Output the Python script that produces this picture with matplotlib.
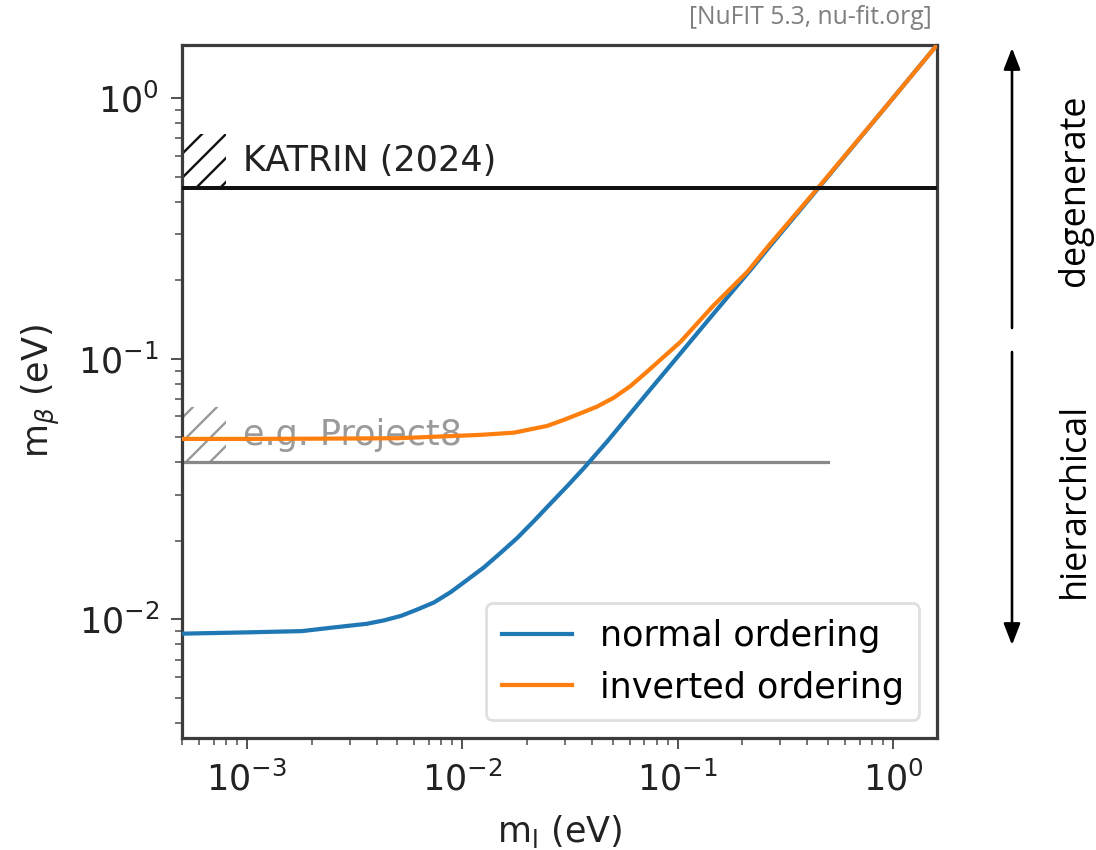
import matplotlib
matplotlib.use("Agg")
import matplotlib.pyplot as plt
import matplotlib.transforms as mtransforms
from matplotlib.patches import Rectangle
from matplotlib.ticker import LogLocator, NullFormatter

# Effective electron-neutrino mass vs. lightest neutrino mass (eV)
m_lightest_no = [5.0e-4, 1.0e-3, 1.8e-3, 2.54e-3, 3.6e-3, 4.34e-3, 5.2e-3, 6.19e-3,
                 7.4e-3, 8.83e-3, 1.06e-2, 1.26e-2, 1.51e-2, 1.80e-2, 2.15e-2,
                 2.57e-2, 3.07e-2, 3.67e-2, 4.71e-2, 7.21e-2, 0.103,
                 0.147, 0.22, 0.269, 0.45, 1.0, 1.6]
m_beta_no = [0.0088, 0.0089, 0.0090, 0.0093, 0.0096, 0.0099, 0.0103, 0.0109,
             0.0116, 0.0127, 0.0142, 0.0158, 0.0180, 0.0205, 0.0238,
             0.0278, 0.0324, 0.0380, 0.0481, 0.0736, 0.1047,
             0.149, 0.221, 0.271, 0.451, 1.0, 1.6]

m_lightest_io = [5.0e-4, 1.0e-3, 2.0e-3, 5.0e-3, 1.22e-2, 1.74e-2, 2.48e-2,
                 2.96e-2, 3.54e-2, 4.23e-2, 5.05e-2, 6.04e-2, 7.21e-2, 0.103,
                 0.123, 0.147, 0.21, 0.269, 0.45, 1.0, 1.6]
m_beta_io = [0.0492, 0.0492, 0.0493, 0.0495, 0.0510, 0.0520, 0.0552,
             0.0582, 0.0617, 0.0655, 0.0708, 0.0785, 0.0891, 0.1159,
             0.1363, 0.1602, 0.2148, 0.2758, 0.454, 1.0, 1.6]

series_labels = ["normal ordering", "inverted ordering"]

# Experimental limits / sensitivities on m_beta (eV)
katrin_limit = 0.45
project8_sens = 0.04
project8_xmax = 0.5

x_limits = (5.0e-4, 1.6)
y_limits = (3.5e-3, 1.6)

DPI = 144
plt.rcParams["hatch.linewidth"] = 1.2
plt.rcParams["font.family"] = "DejaVu Sans"

fig = plt.figure(figsize=(1096 / DPI, 850 / DPI), dpi=DPI)
ax = fig.add_axes([0.1661, 0.1318, 0.6888, 0.8153])

FS = 17.5
blue = "#1f77b4"
orange = "#ff7f0e"

ax.plot(m_lightest_no, m_beta_no, color=blue, lw=2.1, label=series_labels[0], zorder=3)
ax.plot(m_lightest_io, m_beta_io, color=orange, lw=2.1, label=series_labels[1], zorder=3)

ax.set_xscale("log")
ax.set_yscale("log")
ax.set_xlim(*x_limits)
ax.set_ylim(*y_limits)

# KATRIN upper limit with hatched excluded side
ax.axhline(katrin_limit, color="#111111", lw=2.0, zorder=4)
trans = mtransforms.blended_transform_factory(ax.transAxes, ax.transData)
ax.add_patch(Rectangle((0, katrin_limit), 0.058, katrin_limit * 0.62,
                       transform=trans, fill=False, hatch="//", edgecolor="#111111",
                       lw=0, zorder=2))
ax.text(0.081, katrin_limit * 1.27, "KATRIN (2024)", transform=trans,
        fontsize=FS, color="#222222", va="center", ha="left", zorder=2)

# Project8 sensitivity
ax.plot([x_limits[0], project8_xmax], [project8_sens, project8_sens],
        color="#888888", lw=1.6, zorder=2)
ax.add_patch(Rectangle((0, project8_sens), 0.058, project8_sens * 0.63,
                       transform=trans, fill=False, hatch="//", edgecolor="#999999",
                       lw=0, zorder=1.5))
ax.text(0.081, project8_sens * 1.27, "e.g. Project8", transform=trans,
        fontsize=FS, color="#9a9a9a", va="center", ha="left", zorder=1.5)

# Axes styling
for sp in ax.spines.values():
    sp.set_color("#3c3c3c")
    sp.set_linewidth(1.6)

ax.xaxis.set_major_locator(LogLocator(base=10, numticks=10))
ax.yaxis.set_major_locator(LogLocator(base=10, numticks=10))
ax.xaxis.set_minor_locator(LogLocator(base=10, subs=range(2, 10), numticks=20))
ax.yaxis.set_minor_locator(LogLocator(base=10, subs=range(2, 10), numticks=20))
ax.xaxis.set_minor_formatter(NullFormatter())
ax.yaxis.set_minor_formatter(NullFormatter())
ax.tick_params(which="major", length=5.5, width=1.0, color="#555555",
               labelsize=FS, pad=6, labelcolor="#222222")
ax.tick_params(which="minor", length=3.5, width=0.9, color="#666666")

ax.set_xlabel(r"m$_\mathrm{l}$ (eV)", fontsize=FS, color="#222222", labelpad=8)
ax.set_ylabel(r"m$_\beta$ (eV)", fontsize=FS, color="#222222", labelpad=8)

leg = ax.legend(loc="lower right", fontsize=FS, handlelength=2.0,
                borderpad=0.45, labelspacing=0.5, handletextpad=0.8)
leg.get_frame().set_edgecolor("#d8d8d8")
leg.get_frame().set_linewidth(1.4)

# Annotations beside the axes
side_font = ["Open Sans", "DejaVu Sans"]
fig.text(932 / 1096, 1 - 18 / 850, "[NuFIT 5.3, nu-fit.org]", ha="right", va="center",
         fontsize=12.3, color="#7f7f7f", family=side_font)

arrow_kw = dict(arrowstyle="-|>,head_length=0.9,head_width=0.35", color="black",
                lw=1.3, shrinkA=0, shrinkB=0)
ax.annotate("", xy=(1012, 850 - 48), xytext=(1012, 850 - 328),
            xycoords="figure pixels", textcoords="figure pixels",
            arrowprops=arrow_kw, annotation_clip=False)
ax.annotate("", xy=(1012, 850 - 645), xytext=(1012, 850 - 352),
            xycoords="figure pixels", textcoords="figure pixels",
            arrowprops=arrow_kw, annotation_clip=False)
fig.text(1075 / 1096, 1 - 190 / 850, "degenerate", rotation=90, ha="center",
         va="center", fontsize=18, color="black", family=side_font)
fig.text(1075 / 1096, 1 - 500 / 850, "hierarchical", rotation=90, ha="center",
         va="center", fontsize=18, color="black", family=side_font)

fig.savefig("out.png", dpi=DPI)
